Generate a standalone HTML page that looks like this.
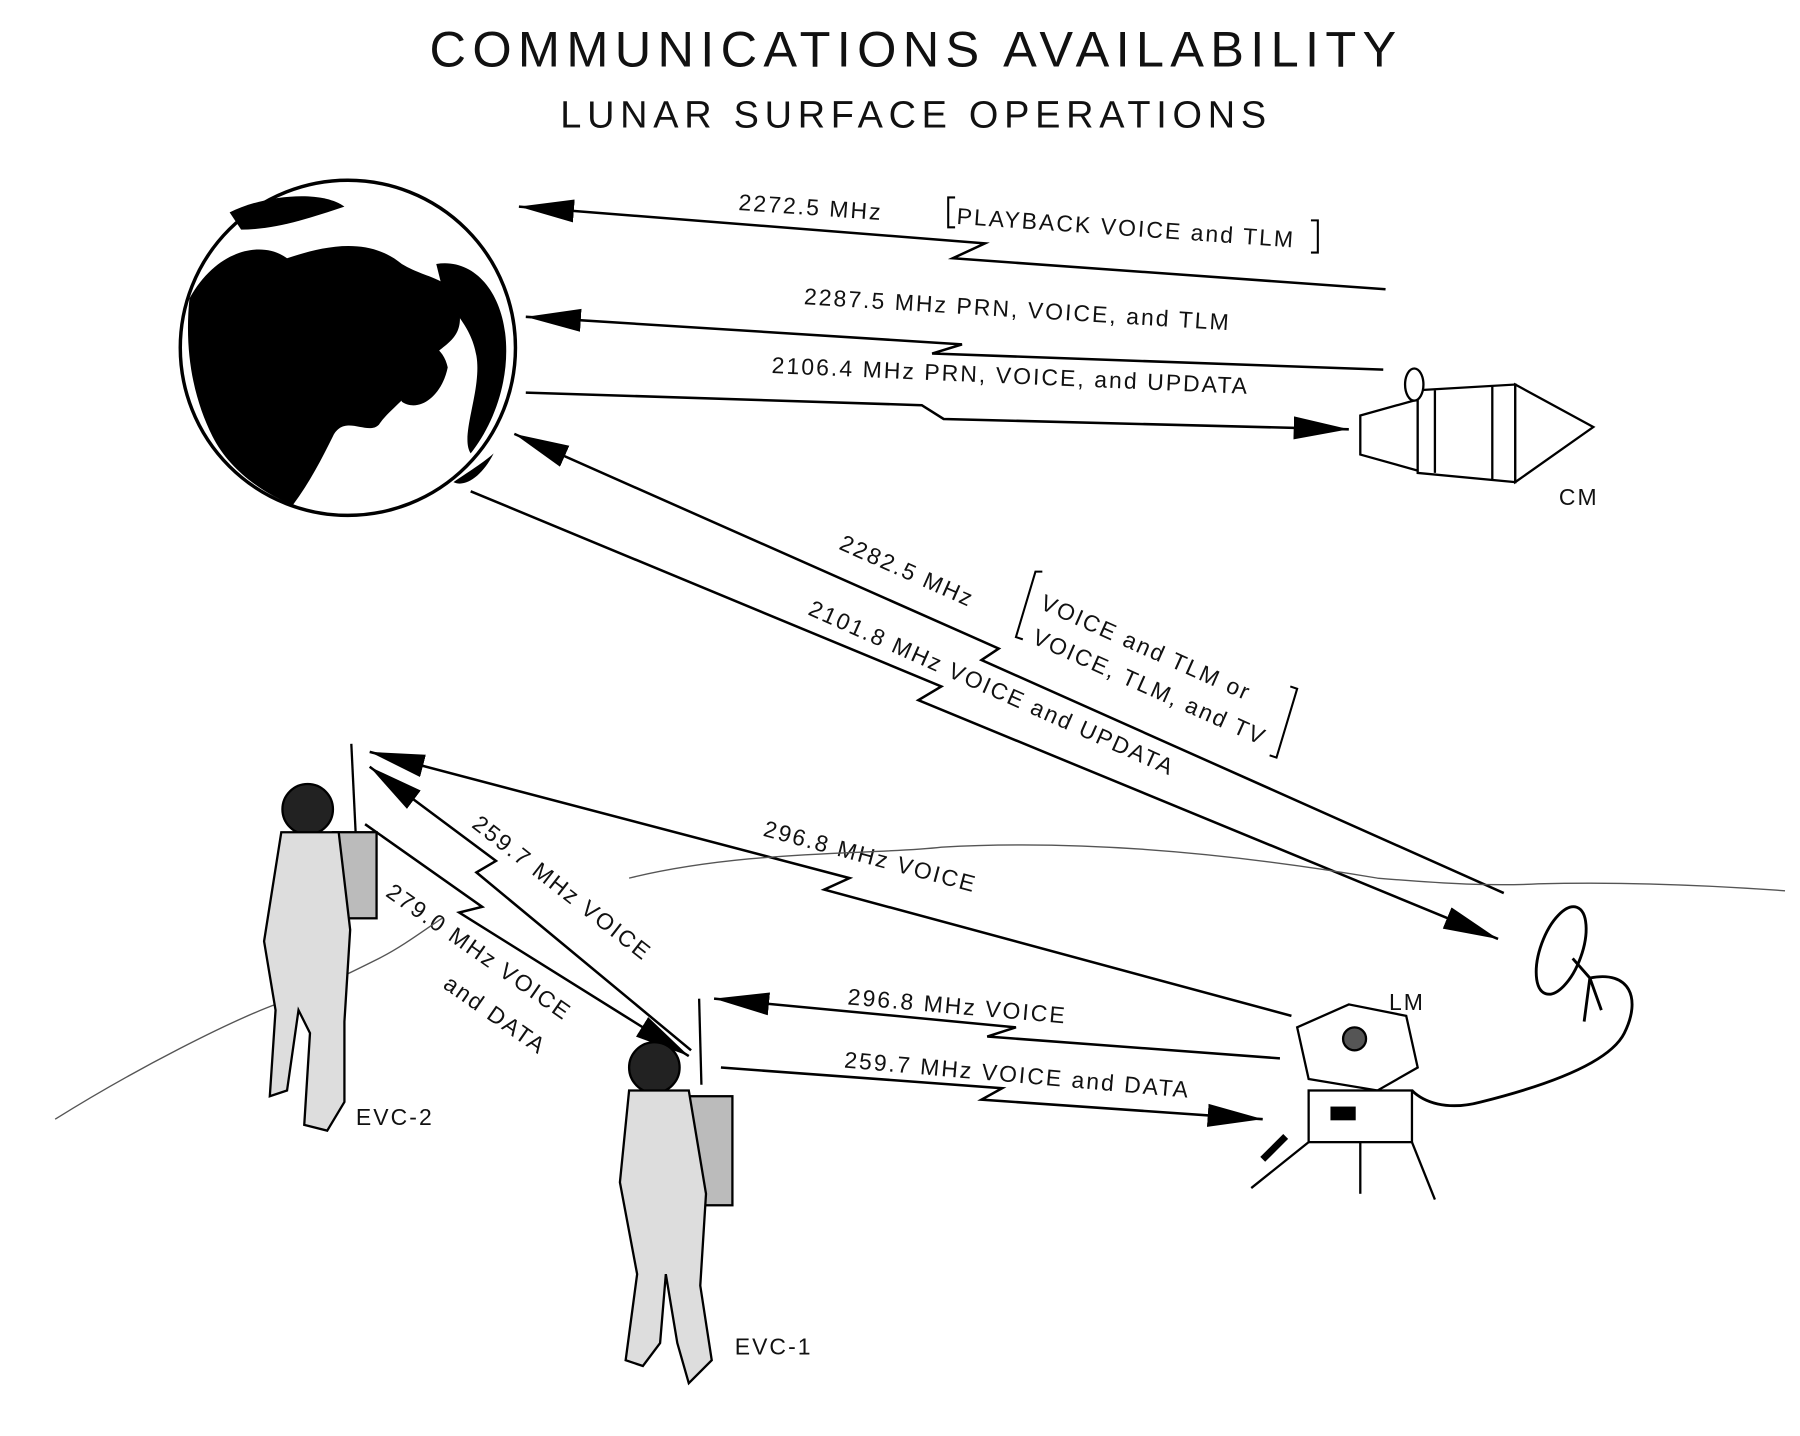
<!DOCTYPE html>
<html><head><meta charset="utf-8"><style>
html,body{margin:0;padding:0;background:#fff;}
svg{display:block;}
text{font-family:"Liberation Sans",sans-serif;fill:#111;}
</style></head><body>
<svg width="1800" height="1436" viewBox="0 0 1568 1251" xmlns="http://www.w3.org/2000/svg">
<defs>
<marker id="ah" markerUnits="userSpaceOnUse" markerWidth="50" markerHeight="24" refX="48" refY="12" orient="auto-start-reverse">
<path d="M0,2 L48,12 L0,22 Z" fill="#000"/></marker>
</defs>
<rect width="1568" height="1251" fill="#fff"/>
<text x="798" y="58" font-size="44" text-anchor="middle" letter-spacing="5.5">COMMUNICATIONS AVAILABILITY</text>
<text x="798" y="111" font-size="33" text-anchor="middle" letter-spacing="5">LUNAR SURFACE OPERATIONS</text>

<!-- Earth -->
<circle cx="303" cy="303" r="146" fill="#fff" stroke="#000" stroke-width="3"/>
<path d="M165,260 C190,215 230,210 250,225 C280,215 320,205 350,230 C375,245 395,240 400,270 C405,300 380,300 370,320 C360,345 340,355 330,370 C320,380 300,360 290,380 C280,400 270,420 255,440 C230,430 200,410 185,380 C170,350 160,310 165,260 Z" fill="#000"/>
<path d="M380,230 C410,225 435,250 440,290 C445,330 430,370 410,395 C400,380 420,340 415,310 C410,280 390,270 385,250 Z" fill="#000"/>
<path d="M340,300 C355,290 385,295 390,320 C385,345 365,360 350,350 C345,330 335,315 340,300 Z" fill="#000"/>
<path d="M200,185 C230,170 280,165 300,180 C270,190 240,200 210,200 Z" fill="#000"/>
<path d="M395,420 C410,410 425,400 430,395 C420,415 405,425 395,420Z" fill="#000"/>

<g fill="none" stroke="#000" stroke-width="2.2">
<polyline points="452,180 858,212 830,225 1207,252" marker-start="url(#ah)"/>
<polyline points="458,276 838,300 812,308 1205,322" marker-start="url(#ah)"/>
<polyline points="458,342 803,353 822,365 1175,374" marker-end="url(#ah)"/>
<polyline points="448,378 870,565 855,575 1310,778" marker-start="url(#ah)"/>
<polyline points="410,428 820,598 800,610 1305,818" marker-end="url(#ah)"/>
<polyline points="322,655 740,765 718,775 1125,885" marker-start="url(#ah)"/>
<polyline points="322,668 432,750 415,760 602,915" marker-start="url(#ah)"/>
<polyline points="318,718 420,790 400,795 600,920" marker-end="url(#ah)"/>
<polyline points="622,870 885,895 860,903 1115,922" marker-start="url(#ah)"/>
<polyline points="628,930 873,948 855,958 1100,975" marker-end="url(#ah)"/>
</g>
<!-- brackets -->
<g fill="none" stroke="#000" stroke-width="1.8">
<polyline points="832,172 826,172 826,198 832,198"/>
<polyline points="1142,192 1148,192 1148,220 1142,220"/>
<polyline points="908,498 902,498 885,555 891,557"/>
<polyline points="1124,598 1130,600 1112,660 1106,658"/>
</g>
<g font-size="20" letter-spacing="1.8">
<text x="643" y="183" transform="rotate(4 643 183)">2272.5  MHz</text>
<text x="833" y="195" transform="rotate(4 833 195)">PLAYBACK VOICE and TLM</text>
<text x="700" y="265" transform="rotate(3.5 700 265)">2287.5 MHz  PRN, VOICE, and TLM</text>
<text x="672" y="325" transform="rotate(2.5 672 325)">2106.4 MHz PRN, VOICE, and UPDATA</text>
<text x="730" y="478" transform="rotate(24 730 478)">2282.5 MHz</text>
<text x="905" y="530" transform="rotate(24 905 530)">VOICE  and  TLM  or</text>
<text x="898" y="560" transform="rotate(24 898 560)">VOICE, TLM, and TV</text>
<text x="703" y="535" transform="rotate(24 703 535)">2101.8 MHz  VOICE and UPDATA</text>
<text x="664" y="728" transform="rotate(15 664 728)">296.8  MHz  VOICE</text>
<text x="410" y="720" transform="rotate(38 410 720)">259.7 MHz VOICE</text>
<text x="335" y="780" transform="rotate(35 335 780)">279.0 MHz  VOICE</text>
<text x="385" y="860" transform="rotate(35 385 860)">and   DATA</text>
<text x="738" y="875" transform="rotate(5 738 875)">296.8 MHz   VOICE</text>
<text x="735" y="930" transform="rotate(5 735 930)">259.7 MHz  VOICE and DATA</text>
<text x="1358" y="440">CM</text>
<text x="1210" y="880">LM</text>
<text x="310" y="980">EVC-2</text>
<text x="640" y="1180">EVC-1</text>
</g>

<!-- horizon -->
<g fill="none" stroke="#555" stroke-width="1.2">
<path d="M548,765 C650,740 760,745 820,738 C960,730 1100,748 1200,765 C1260,770 1300,772 1340,770 C1420,768 1500,772 1555,776"/>
<path d="M48,975 C120,930 200,890 240,875 C280,860 300,850 330,835 C350,825 370,810 385,800"/>
</g>

<!-- CM -->
<g fill="#fff" stroke="#000" stroke-width="2">
<path d="M1185,362 L1235,348 L1235,410 L1185,396 Z"/>
<path d="M1235,340 L1320,335 L1320,420 L1235,412 Z"/>
<path d="M1320,335 L1388,372 L1320,420 Z"/>
<ellipse cx="1232" cy="335" rx="8" ry="14"/>
<line x1="1250" y1="340" x2="1250" y2="412"/>
<line x1="1300" y1="336" x2="1300" y2="418"/>
</g>

<!-- antenna dish + cable -->
<g fill="none" stroke="#000" stroke-width="2.5">
<ellipse cx="1360" cy="828" rx="18" ry="40" transform="rotate(20 1360 828)"/>
<path d="M1370,835 L1385,852 L1380,890 M1385,852 L1395,880 M1385,852 C1420,845 1430,870 1415,900 C1400,930 1330,950 1290,960 C1260,968 1240,960 1230,950"/>
</g>

<!-- LM -->
<g stroke="#000" stroke-width="2" fill="#fff">
<path d="M1130,895 L1175,875 L1225,885 L1235,930 L1200,950 L1140,940 Z"/>
<rect x="1140" y="950" width="90" height="45"/>
<line x1="1140" y1="995" x2="1090" y2="1035"/>
<line x1="1230" y1="995" x2="1250" y2="1045"/>
<line x1="1185" y1="995" x2="1185" y2="1040"/>
<path d="M1120,990 L1100,1010" stroke-width="6"/>
<rect x="1160" y="965" width="20" height="10" fill="#000"/>
<circle cx="1180" cy="905" r="10" fill="#555"/>
</g>

<!-- astronauts -->
<g stroke="#000" stroke-width="2" fill="#ddd">
<line x1="306" y1="648" x2="310" y2="730" stroke-width="2"/>
<circle cx="268" cy="705" r="22" fill="#222"/>
<rect x="290" y="725" width="38" height="75" fill="#bbb"/>
<path d="M245,725 L295,725 L305,810 L300,890 L300,960 L285,985 L265,980 L270,900 L260,880 L250,950 L235,955 L240,880 L230,820 Z"/>
<line x1="609" y1="870" x2="611" y2="945"/>
<circle cx="570" cy="930" r="22" fill="#222"/>
<rect x="600" y="955" width="38" height="95" fill="#bbb"/>
<path d="M548,950 L600,950 L615,1040 L610,1120 L620,1185 L600,1205 L590,1170 L580,1110 L575,1170 L560,1190 L545,1185 L555,1110 L540,1030 Z"/>
</g>
</svg>
</body></html>
